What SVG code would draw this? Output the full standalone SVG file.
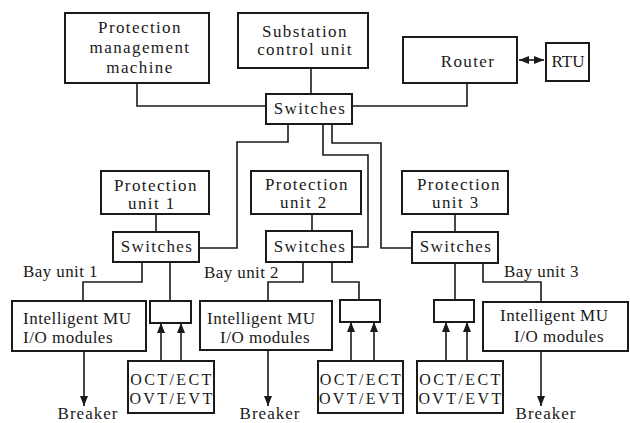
<svg xmlns="http://www.w3.org/2000/svg" width="630" height="423" viewBox="0 0 630 423">
<style>
.box{fill:#fff;stroke:#1a1a1a;stroke-width:2}
.ln{fill:none;stroke:#1a1a1a;stroke-width:1.6}
text{font-family:"Liberation Serif","Times New Roman",serif;font-size:17px;fill:#1a1a1a;letter-spacing:1.4px}
.c{text-anchor:middle}
.big{font-size:16px;letter-spacing:2.4px}
.mu{letter-spacing:0.5px}
.bay{letter-spacing:0.4px}
</style>
<defs>
<marker id="ah" viewBox="0 0 10 8" refX="10" refY="4" markerWidth="10" markerHeight="8" markerUnits="userSpaceOnUse" orient="auto-start-reverse">
<path d="M0,0 L10,4 L0,8 Z" fill="#1a1a1a"/>
</marker>
</defs>
<g id="connectors">
<path class="ln" d="M137,83 V106 H266"/>
<path class="ln" d="M311,68 V94"/>
<path class="ln" d="M467,83 V106 H352"/>
<path class="ln" d="M519,60 H544" marker-start="url(#ah)" marker-end="url(#ah)"/>
<path class="ln" d="M288,124 V142 H237 V248 H199"/>
<path class="ln" d="M323,124 V155 H368 V247 H352"/>
<path class="ln" d="M332,124 V143 H381 V248 H412"/>
<path class="ln" d="M156,214 V232"/>
<path class="ln" d="M312,214 V231"/>
<path class="ln" d="M455,214 V232"/>
<path class="ln" d="M142,262 V282 H83 V301"/>
<path class="ln" d="M170,262 V301"/>
<path class="ln" d="M303,262 V282 H268 V301"/>
<path class="ln" d="M332,262 V282 H359 V300"/>
<path class="ln" d="M455,263 V300"/>
<path class="ln" d="M483,263 V282 H541 V302"/>
<path class="ln" d="M84,351 V406" marker-end="url(#ah)"/>
<path class="ln" d="M268,350 V406" marker-end="url(#ah)"/>
<path class="ln" d="M541,351 V406" marker-end="url(#ah)"/>
<path class="ln" d="M161,361 V323" marker-end="url(#ah)"/>
<path class="ln" d="M181,361 V323" marker-end="url(#ah)"/>
<path class="ln" d="M351,361 V322" marker-end="url(#ah)"/>
<path class="ln" d="M374,361 V322" marker-end="url(#ah)"/>
<path class="ln" d="M446,361 V322" marker-end="url(#ah)"/>
<path class="ln" d="M467,361 V322" marker-end="url(#ah)"/>
</g>
<g id="pmm">
<rect class="box" x="65" y="13" width="144" height="70"/>
<text class="c" x="140" y="33">Protection</text>
<text class="c" x="140" y="53">management</text>
<text class="c" x="140" y="73">machine</text>
</g>
<g id="scu">
<rect class="box" x="238" y="13" width="130" height="55"/>
<text class="c" x="305" y="37">Substation</text>
<text class="c" x="305" y="55">control unit</text>
</g>
<g id="router">
<rect class="box" x="403" y="37" width="114" height="46"/>
<text class="c" x="468" y="67">Router</text>
</g>
<g id="rtu">
<rect class="box" x="546" y="43" width="43" height="38"/>
<text class="c" x="568" y="67" style="letter-spacing:0">RTU</text>
</g>
<g id="switches-top">
<rect class="box" x="266" y="94" width="86" height="30"/>
<text class="c" x="310" y="114">Switches</text>
</g>
<g id="pu1">
<rect class="box" x="101" y="171" width="108" height="43"/>
<text x="114" y="191">Protection</text>
<text x="128" y="209">unit 1</text>
</g>
<g id="pu2">
<rect class="box" x="251" y="171" width="110" height="43"/>
<text x="265" y="190">Protection</text>
<text x="280" y="208">unit 2</text>
</g>
<g id="pu3">
<rect class="box" x="402" y="171" width="106" height="43"/>
<text x="417" y="190">Protection</text>
<text x="432" y="208">unit 3</text>
</g>
<g id="sw1">
<rect class="box" x="113" y="232" width="86" height="30"/>
<text class="c" x="157" y="252">Switches</text>
</g>
<g id="sw2">
<rect class="box" x="266" y="231" width="86" height="31"/>
<text class="c" x="310" y="252">Switches</text>
</g>
<g id="sw3">
<rect class="box" x="412" y="232" width="86" height="31"/>
<text class="c" x="456" y="252">Switches</text>
</g>
<g id="bay-labels">
<text class="bay" x="23" y="277">Bay unit 1</text>
<text class="bay" x="204" y="278">Bay unit 2</text>
<text class="bay" x="504" y="277">Bay unit 3</text>
</g>
<g id="mu1">
<rect class="box" x="12" y="301" width="134" height="50"/>
<text class="mu" x="23" y="324">Intelligent MU</text>
<text class="mu" x="23" y="343">I/O modules</text>
</g>
<g id="mu2">
<rect class="box" x="200" y="301" width="132" height="49"/>
<text class="mu" x="207" y="324">Intelligent MU</text>
<text class="mu" x="220" y="343">I/O modules</text>
</g>
<g id="mu3">
<rect class="box" x="483" y="302" width="145" height="49"/>
<text class="mu" x="500" y="321">Intelligent MU</text>
<text class="mu" x="514" y="342">I/O modules</text>
</g>
<g id="merge1"><rect class="box" x="150" y="301" width="41" height="22"/></g>
<g id="merge2"><rect class="box" x="340" y="300" width="40" height="22"/></g>
<g id="merge3"><rect class="box" x="434" y="300" width="40" height="22"/></g>
<g id="oct1">
<rect class="box" x="128" y="361" width="86" height="52"/>
<text class="big c" x="172" y="385">OCT/ECT</text>
<text class="big c" x="172" y="404">OVT/EVT</text>
</g>
<g id="oct2">
<rect class="box" x="318" y="361" width="85" height="52"/>
<text class="big c" x="361.5" y="385">OCT/ECT</text>
<text class="big c" x="361.5" y="404">OVT/EVT</text>
</g>
<g id="oct3">
<rect class="box" x="417" y="361" width="86" height="52"/>
<text class="big c" x="461" y="385">OCT/ECT</text>
<text class="big c" x="461" y="404">OVT/EVT</text>
</g>
<g id="breakers">
<text class="c" x="88" y="419" style="letter-spacing:1px">Breaker</text>
<text class="c" x="270" y="419" style="letter-spacing:1px">Breaker</text>
<text class="c" x="546" y="419" style="letter-spacing:1px">Breaker</text>
</g>
</svg>
